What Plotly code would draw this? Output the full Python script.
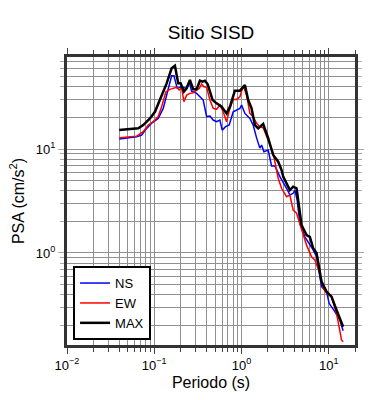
import plotly.graph_objects as go

# Periods (s) and PSA (cm/s^2)
ns_T = [0.0397, 0.0629, 0.0717, 0.0818, 0.0934, 0.111, 0.1268, 0.1446, 0.1582, 0.1681,
        0.1834, 0.2060, 0.2307, 0.2517, 0.2682, 0.3060, 0.3338, 0.3641, 0.3983, 0.4345,
        0.4740, 0.5184, 0.5656, 0.6010, 0.6572, 0.7229, 0.8034, 0.8787, 0.9585, 1.0025,
        1.0937, 1.248, 1.361, 1.489, 1.624, 1.699, 1.806, 2.022, 2.154, 2.212,
        2.413, 2.753, 3.286, 3.584, 3.911, 4.090, 4.345, 4.666, 5.323, 5.808,
        6.627, 7.247, 7.907, 8.270, 9.436, 10.10, 11.74, 13.40, 14.62]
ns_psa = [12.5, 13.1, 13.6, 15.8, 17.7, 19.7, 24.6, 38.3, 50.7, 50.7,
          38.3, 39.7, 38.3, 44.4, 36.0, 34.3, 31.8, 29.6, 20.5, 20.8,
          19.0, 18.3, 19.0, 15.2, 16.4, 17.0, 22.8, 23.5, 24.6, 26.5,
          22.0, 19.7, 17.0, 12.8, 10.2, 10.9, 9.42, 9.78, 7.29, 6.86,
          6.86, 5.42, 4.19, 3.61, 3.75, 4.03, 3.23, 1.93, 1.43, 1.28,
          1.07, 0.92, 0.614, 0.474, 0.425, 0.328, 0.273, 0.227, 0.179]

ew_T = [0.0397, 0.0629, 0.0748, 0.0854, 0.0974, 0.111, 0.1215, 0.1361, 0.1512, 0.1651,
        0.1805, 0.1933, 0.2060, 0.2189, 0.2350, 0.2564, 0.2798, 0.3060, 0.3276, 0.3490,
        0.3709, 0.3983, 0.4345, 0.4740, 0.5184, 0.5656, 0.6170, 0.6749, 0.7363, 0.8034,
        0.8787, 0.9585, 1.0457, 1.144, 1.248, 1.361, 1.489, 1.624, 1.772, 2.022,
        2.307, 2.413, 2.633, 2.879, 3.286, 3.584, 3.911, 4.277, 4.880, 5.568,
        6.352, 6.929, 7.907, 8.627, 9.436, 10.76, 12.28, 14.02, 14.62]
ew_psa = [12.8, 13.3, 14.7, 17.0, 18.3, 20.5, 25.5, 35.6, 37.5, 38.3,
          39.2, 36.9, 38.8, 28.5, 33.0, 34.3, 34.8, 36.9, 38.3, 42.2,
          39.7, 39.2, 29.6, 24.6, 24.1, 26.5, 22.8, 18.3, 24.6, 30.0,
          30.0, 31.8, 40.3, 33.0, 22.0, 20.5, 17.7, 16.3, 16.0, 12.2,
          9.15, 7.55, 5.23, 4.19, 3.48, 3.61, 2.59, 2.41, 1.73, 1.19,
          0.92, 0.857, 0.638, 0.458, 0.410, 0.380, 0.263, 0.146, 0.140]

max_T = [0.0397, 0.0656, 0.0748, 0.0893, 0.1019, 0.1162, 0.1387, 0.1582, 0.1726, 0.1883,
         0.2006, 0.2189, 0.2350, 0.2564, 0.2798, 0.3060, 0.3338, 0.3584, 0.3807, 0.4090,
         0.4665, 0.5184, 0.5916, 0.6749, 0.7363, 0.840, 0.9585, 1.0937, 1.193, 1.305,
         1.424, 1.553, 1.772, 2.022, 2.307, 2.633, 2.879, 3.004, 3.584, 3.911,
         4.277, 4.880, 5.568, 6.074, 6.627, 7.247, 7.907, 8.270, 9.436, 10.76,
         12.28, 14.02, 14.62]
max_psa = [15.2, 15.8, 17.0, 19.7, 22.8, 29.6, 42.8, 59.7, 63.2, 42.8,
           42.8, 35.6, 38.3, 46.1, 37.5, 37.5, 45.4, 44.4, 45.4, 42.2,
           29.6, 27.5, 25.5, 22.0, 25.5, 36.4, 36.4, 41.2, 29.6, 24.6,
           17.0, 15.8, 17.4, 12.7, 8.75, 7.55, 6.28, 5.42, 4.03, 4.34,
           4.19, 1.86, 1.49, 1.43, 1.11, 1.0, 0.687, 0.530, 0.425, 0.380,
           0.283, 0.211, 0.195]

x_tickvals = [0.01, 0.1, 1, 10]
x_ticktext = ["10<sup>\u22122</sup>", "10<sup>\u22121</sup>", "10<sup>0</sup>", "10<sup>1</sup>"]
y_tickvals = [1, 10]
y_ticktext = ["10<sup>0</sup>", "10<sup>1</sup>"]

x_minor = [m * 10 ** e for e in range(-2, 2) for m in range(1, 10)]
y_minor = [m * 10 ** e for e in range(-1, 2) for m in range(1, 10)]

FONT = "Liberation Sans, Arial, Helvetica, sans-serif"
GRID = "#909090"

fig = go.Figure()
fig.add_trace(go.Scatter(x=ns_T, y=ns_psa, mode="lines", name="NS",
                         line=dict(color="#0000ff", width=1.5)))
fig.add_trace(go.Scatter(x=ew_T, y=ew_psa, mode="lines", name="EW",
                         line=dict(color="#ff0000", width=1.5)))
fig.add_trace(go.Scatter(x=max_T, y=max_psa, mode="lines", name="MAX",
                         line=dict(color="#000000", width=2.5)))

fig.update_layout(
    width=390, height=400,
    margin=dict(l=67, r=35, t=57, b=55),
    paper_bgcolor="white", plot_bgcolor="white",
    font=dict(family=FONT, color="black", size=13),
    title=dict(text="Sitio SISD", x=0.5, xref="paper", xanchor="center",
               y=(400 - 32) / 400, yref="container", yanchor="middle",
               font=dict(size=19, family=FONT)),
    showlegend=True,
    legend=dict(x=0.021, y=0.274, xanchor="left", yanchor="top",
                bordercolor="black", borderwidth=2, bgcolor="white",
                font=dict(size=13, family=FONT), tracegroupgap=0,
                itemwidth=30),
)
fig.update_xaxes(
    type="log", range=[-2, 1.301], automargin=False,
    tickvals=x_tickvals, ticktext=x_ticktext,
    ticks="outside", ticklen=6, tickcolor="#444",
    showgrid=True, gridcolor=GRID, gridwidth=1,
    minor=dict(tickvals=x_minor, ticks="outside", ticklen=4, tickcolor="#444",
               showgrid=True, gridcolor=GRID, gridwidth=1),
    showline=True, linecolor="#333", linewidth=3, mirror="allticks",
    zeroline=False,
    title=dict(text="Periodo (s)", font=dict(size=16, family=FONT), standoff=6),
    tickfont=dict(size=13),
)
fig.update_yaxes(
    type="log", range=[-0.885, 1.885], automargin=False,
    tickvals=y_tickvals, ticktext=y_ticktext,
    ticks="outside", ticklen=6, tickcolor="#aaa",
    showgrid=True, gridcolor=GRID, gridwidth=1,
    minor=dict(tickvals=y_minor, ticks="outside", ticklen=4, tickcolor="#aaa",
               showgrid=True, gridcolor=GRID, gridwidth=1),
    showline=True, linecolor="#333", linewidth=3, mirror="allticks",
    zeroline=False,
    title=dict(text="PSA (cm/s<sup>2</sup>)", font=dict(size=16, family=FONT), standoff=8),
    tickfont=dict(size=13),
)

fig.write_html("out.html", config={"displayModeBar": False},
               post_script="document.body.style.margin='0';document.body.style.padding='0';")
